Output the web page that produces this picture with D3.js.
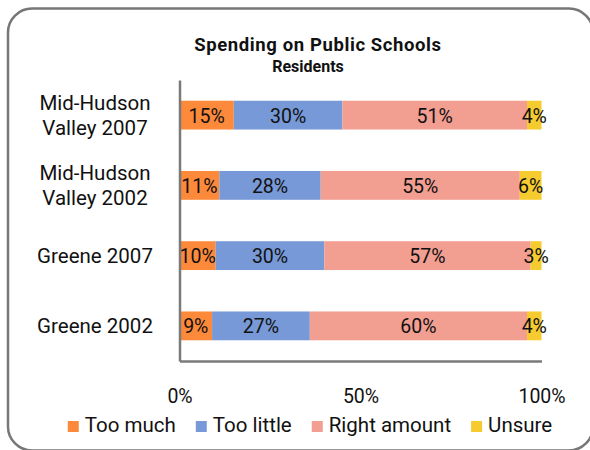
<!DOCTYPE html>
<html>
<head>
<meta charset="utf-8">
<script src="https://cdn.jsdelivr.net/npm/d3@7"></script>
<style>
  html, body { margin: 0; padding: 0; background: #fff; }
  svg { display: block; }
  text { font-family: Roboto, "Liberation Sans", sans-serif; fill: #111; }
</style>
</head>
<body>
<svg id="chart" width="590" height="450"></svg>
<script>
// ---- data ----
const categories = ["Mid-Hudson Valley 2007", "Mid-Hudson Valley 2002", "Greene 2007", "Greene 2002"];
const categoryLines = [["Mid-Hudson", "Valley 2007"], ["Mid-Hudson", "Valley 2002"], ["Greene 2007"], ["Greene 2002"]];
const seriesNames = ["Too much", "Too little", "Right amount", "Unsure"];
const tooMuch     = [15, 11, 10, 9];
const tooLittle   = [30, 28, 30, 27];
const rightAmount = [51, 55, 57, 60];
const unsure      = [4, 6, 3, 4];
const xTickValues = [0, 50, 100];
const xTickLabels = ["0%", "50%", "100%"];
const titleText = "Spending on Public Schools";
const subtitleText = "Residents";

const colors = ["#FD893B", "#7799D7", "#F29E91", "#F6CB2F"];

// ---- build table ----
const seriesValues = [tooMuch, tooLittle, rightAmount, unsure];
const table = categories.map((c, i) => {
  const row = { category: c };
  seriesNames.forEach((s, j) => row[s] = seriesValues[j][i]);
  return row;
});
const stacked = d3.stack().keys(seriesNames)(table);

const svg = d3.select("#chart");

// border
svg.append("rect")
  .attr("x", 8).attr("y", 8.5)
  .attr("width", 585).attr("height", 442)
  .attr("rx", 24).attr("ry", 24)
  .attr("fill", "#fff")
  .attr("stroke", "#777").attr("stroke-width", 2.5);

// title
svg.append("text")
  .attr("x", 318).attr("y", 51)
  .attr("text-anchor", "middle")
  .style("font-size", "18.5px").style("font-weight", "bold")
  .style("letter-spacing", "0.6px")
  .text(titleText);
svg.append("text")
  .attr("x", 308).attr("y", 72)
  .attr("text-anchor", "middle")
  .style("font-size", "16px").style("font-weight", "bold")
  .text(subtitleText);

// scales
const x = d3.scaleLinear().domain([0, 100]).range([179.5, 541.5]);
const y = d3.scaleBand().domain(categories).range([80, 361])
  .paddingInner(0.59).paddingOuter(0.295);

// bars
const groups = svg.append("g").selectAll("g")
  .data(stacked).join("g")
  .attr("fill", (d, i) => colors[i]);

groups.selectAll("rect")
  .data(d => d.map(v => ({ v, cat: v.data.category })))
  .join("rect")
  .attr("x", d => x(d.v[0]))
  .attr("width", d => x(d.v[1]) - x(d.v[0]))
  .attr("y", d => y(d.cat))
  .attr("height", y.bandwidth());

// data labels
const labelG = svg.append("g");
stacked.forEach(s => {
  s.forEach(v => {
    labelG.append("text")
      .attr("x", (x(v[0]) + x(v[1])) / 2)
      .attr("y", y(v.data.category) + y.bandwidth() / 2 + 7.5)
      .attr("text-anchor", "middle")
      .style("font-size", "19.5px")
      .text((v[1] - v[0]) + "%");
  });
});

// axes
const xAxis = d3.axisBottom(x).tickValues(xTickValues)
  .tickFormat((d, i) => xTickLabels[i])
  .tickSizeInner(0).tickSizeOuter(0).tickPadding(28.5);
const gx = svg.append("g").attr("transform", "translate(0,361)").call(xAxis);
gx.select(".domain").attr("stroke", "#7a7a7a").attr("stroke-width", 2.5);
gx.selectAll(".tick text").style("font-size", "19.5px")
  .style("font-family", "Roboto, sans-serif").attr("fill", "#111");

const yAxis = d3.axisLeft(y).tickSizeInner(0).tickSizeOuter(0).tickFormat("");
const gy = svg.append("g").attr("transform", "translate(179.5,0)").call(yAxis);
gy.select(".domain").attr("stroke", "#7a7a7a").attr("stroke-width", 2.5);

// category labels
categories.forEach((c, i) => {
  const lines = categoryLines[i];
  const cy = y(c) + y.bandwidth() / 2;
  const lh = 25;
  const t = svg.append("text")
    .attr("text-anchor", "middle")
    .style("font-size", "20.5px");
  lines.forEach((ln, k) => {
    t.append("tspan")
      .attr("x", 95)
      .attr("y", cy + 7.3 + (k - (lines.length - 1) / 2) * lh)
      .text(ln);
  });
});

// legend
const legend = svg.append("g");
const items = seriesNames.map((s, i) => {
  const g = legend.append("g");
  g.append("rect").attr("width", 11).attr("height", 11).attr("y", -11).attr("fill", colors[i]);
  const t = g.append("text").attr("x", 17).attr("y", 0)
    .style("font-size", "20.5px").text(s);
  return { g, w: 17 + t.node().getComputedTextLength() };
});
const gap = 20;
const total = d3.sum(items, d => d.w) + gap * (items.length - 1);
let lx = 310 - total / 2;
items.forEach(it => {
  it.g.attr("transform", `translate(${lx},432)`);
  lx += it.w + gap;
});
</script>
</body>
</html>
